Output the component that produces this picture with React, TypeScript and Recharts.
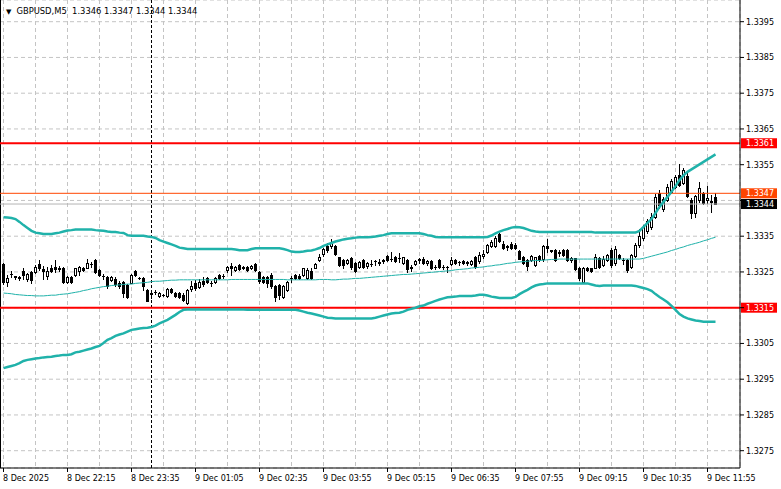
import { Bar, ComposedChart, Line, XAxis, YAxis, CartesianGrid, ReferenceLine } from "recharts";

// GBPUSD M5, 8 Dec 20:55 -> 9 Dec 12:05
const opens = [
  1.33272, 1.33222, 1.33243, 1.33238, 1.33233, 1.33253, 1.33229, 1.3325, 1.33251, 1.33272,
  1.33257, 1.33238, 1.33262, 1.33264, 1.33258, 1.33262, 1.33222, 1.33236, 1.33241, 1.33252,
  1.33262, 1.33262, 1.33273, 1.33283, 1.33255, 1.33238, 1.33235, 1.33228, 1.3323, 1.3322,
  1.33222, 1.33213, 1.3322, 1.33252, 1.33233, 1.33232, 1.332, 1.3319, 1.33193, 1.33183,
  1.33186, 1.33183, 1.33203, 1.3319, 1.33192, 1.33186, 1.33163, 1.33202, 1.3322, 1.33208,
  1.33225, 1.33232, 1.33219, 1.33222, 1.33241, 1.33238, 1.33255, 1.33266, 1.33256, 1.3327,
  1.33262, 1.33264, 1.3326, 1.33272, 1.3325, 1.33237, 1.33236, 1.33241, 1.3321, 1.33213,
  1.3318, 1.332, 1.33233, 1.33241, 1.3324, 1.33241, 1.33234, 1.33254, 1.33262, 1.33283,
  1.333, 1.33323, 1.33322, 1.33322, 1.33291, 1.33283, 1.33276, 1.3329, 1.33274, 1.33264,
  1.33283, 1.33266, 1.33272, 1.33281, 1.33276, 1.33283, 1.33294, 1.33285, 1.33291, 1.33288,
  1.33275, 1.33283, 1.33262, 1.33272, 1.33285, 1.33286, 1.33274, 1.3328, 1.33263, 1.33283,
  1.33264, 1.33264, 1.33272, 1.33283, 1.33278, 1.3328, 1.33277, 1.33272, 1.33292, 1.3328,
  1.33296, 1.33305, 1.33322, 1.33323, 1.33357, 1.33328, 1.33322, 1.33328, 1.33325, 1.33308,
  1.33291, 1.33283, 1.33283, 1.3327, 1.33294, 1.33285, 1.33322, 1.3331, 1.33311, 1.33305,
  1.33311, 1.3331, 1.33283, 1.33288, 1.3326, 1.33222, 1.33262, 1.3326, 1.33262, 1.3329,
  1.3327, 1.33283, 1.33311, 1.33275, 1.33297, 1.33284, 1.33283, 1.33263, 1.33296, 1.33325,
  1.33345, 1.33365, 1.33375, 1.33405, 1.33471, 1.33425, 1.33452, 1.33475, 1.33488, 1.3352,
  1.33498, 1.33517, 1.33452, 1.33416, 1.33451, 1.3347, 1.33452, 1.33448, 1.3346,
];

const highs = [
  1.33275, 1.33241, 1.33253, 1.3324, 1.3324, 1.3326, 1.33248, 1.33252, 1.3327, 1.33283,
  1.33268, 1.33264, 1.3327, 1.33283, 1.33266, 1.33265, 1.3324, 1.3324, 1.33262, 1.33268,
  1.33264, 1.33285, 1.33278, 1.33285, 1.33258, 1.33244, 1.3324, 1.3324, 1.33235, 1.33224,
  1.33224, 1.33215, 1.33245, 1.33256, 1.33236, 1.33235, 1.33202, 1.332, 1.332, 1.33195,
  1.33188, 1.33206, 1.33206, 1.33195, 1.33195, 1.3319, 1.33203, 1.33225, 1.33228, 1.3323,
  1.33235, 1.33236, 1.33224, 1.33236, 1.33245, 1.33243, 1.33268, 1.33275, 1.33266, 1.33272,
  1.33268, 1.33266, 1.3327, 1.33274, 1.33253, 1.3324, 1.3324, 1.33248, 1.33213, 1.33216,
  1.33213, 1.33224, 1.33238, 1.33244, 1.33243, 1.33262, 1.3326, 1.33262, 1.33274, 1.333,
  1.33316, 1.3333, 1.33341, 1.33326, 1.33293, 1.33286, 1.33286, 1.33293, 1.33278, 1.3328,
  1.33286, 1.33278, 1.33283, 1.33283, 1.33285, 1.33285, 1.33297, 1.33305, 1.33294, 1.33303,
  1.33293, 1.33286, 1.3327, 1.33284, 1.33288, 1.33292, 1.33283, 1.33283, 1.3327, 1.33286,
  1.3327, 1.33268, 1.33293, 1.33286, 1.33282, 1.33283, 1.33281, 1.33284, 1.33294, 1.33305,
  1.3331, 1.33328, 1.33338, 1.3335, 1.3336, 1.33337, 1.33324, 1.33334, 1.3333, 1.3331,
  1.33294, 1.33286, 1.33297, 1.33293, 1.33297, 1.33324, 1.33342, 1.33312, 1.33314, 1.3331,
  1.33314, 1.33314, 1.33292, 1.3329, 1.33263, 1.33265, 1.33264, 1.33262, 1.333, 1.33293,
  1.33295, 1.333, 1.33318, 1.33322, 1.333, 1.33288, 1.33285, 1.333, 1.33332, 1.3337,
  1.3338, 1.33398, 1.33415, 1.33468, 1.3348, 1.3346, 1.33495, 1.3351, 1.3352, 1.33553,
  1.3354, 1.3353, 1.33458, 1.33466, 1.33503, 1.33475, 1.3349, 1.33465, 1.3347,
];

const lows = [
  1.33215, 1.3321, 1.33235, 1.3323, 1.33228, 1.3323, 1.33226, 1.33218, 1.33248, 1.33255,
  1.3323, 1.3323, 1.3325, 1.33251, 1.33252, 1.3322, 1.33218, 1.33218, 1.33238, 1.33241,
  1.33252, 1.3326, 1.33265, 1.33248, 1.33238, 1.3323, 1.33205, 1.33225, 1.3321, 1.33205,
  1.3318, 1.33178, 1.33218, 1.3324, 1.3323, 1.33199, 1.33168, 1.33178, 1.33188, 1.3318,
  1.33183, 1.3318, 1.3319, 1.3318, 1.33178, 1.3317, 1.3316, 1.33198, 1.332, 1.33205,
  1.33212, 1.3322, 1.3321, 1.3322, 1.3323, 1.33234, 1.3325, 1.33241, 1.33252, 1.33255,
  1.33258, 1.33252, 1.33258, 1.33253, 1.3322, 1.3322, 1.33208, 1.33205, 1.3317, 1.33174,
  1.33176, 1.33198, 1.33222, 1.3323, 1.3323, 1.33238, 1.3323, 1.3323, 1.3326, 1.3328,
  1.33295, 1.33305, 1.33318, 1.33297, 1.33266, 1.3326, 1.33273, 1.33258, 1.3325, 1.33262,
  1.33262, 1.33262, 1.33266, 1.3327, 1.3327, 1.33275, 1.3328, 1.3328, 1.33278, 1.33278,
  1.33272, 1.3325, 1.33252, 1.3327, 1.33275, 1.33272, 1.3327, 1.33258, 1.33258, 1.3326,
  1.33258, 1.3325, 1.3327, 1.33272, 1.3327, 1.33272, 1.3327, 1.3327, 1.3326, 1.33276,
  1.3329, 1.33302, 1.3332, 1.3332, 1.33334, 1.33315, 1.33312, 1.33315, 1.33313, 1.33285,
  1.33272, 1.33255, 1.3328, 1.33268, 1.33282, 1.33282, 1.33305, 1.33305, 1.3328, 1.33296,
  1.33294, 1.3328, 1.33278, 1.33255, 1.33227, 1.3322, 1.33252, 1.3325, 1.3326, 1.3326,
  1.33268, 1.3328, 1.33265, 1.3327, 1.33285, 1.33272, 1.3325, 1.3326, 1.33293, 1.3332,
  1.3334, 1.3336, 1.3337, 1.334, 1.3343, 1.3342, 1.33448, 1.3347, 1.33485, 1.3349,
  1.33495, 1.3346, 1.33402, 1.33405, 1.33446, 1.33439, 1.33442, 1.33418, 1.3344,
];

const closes = [
  1.33222, 1.33234, 1.33244, 1.33236, 1.33235, 1.33241, 1.33244, 1.33227, 1.33264, 1.3326,
  1.33252, 1.33253, 1.33252, 1.33258, 1.33262, 1.33221, 1.33236, 1.33222, 1.3326, 1.33264,
  1.33255, 1.33276, 1.33272, 1.3325, 1.33241, 1.3324, 1.3321, 1.33236, 1.33216, 1.3321,
  1.33192, 1.33181, 1.33241, 1.33241, 1.33232, 1.3321, 1.3317, 1.33188, 1.33195, 1.3319,
  1.33186, 1.33203, 1.33193, 1.33183, 1.3318, 1.33172, 1.332, 1.33212, 1.33205, 1.33222,
  1.33215, 1.33223, 1.33218, 1.33234, 1.33232, 1.3324, 1.33264, 1.3326, 1.33264, 1.33259,
  1.33264, 1.33255, 1.33268, 1.33255, 1.33224, 1.33222, 1.33218, 1.3321, 1.33181, 1.33185,
  1.3321, 1.33222, 1.33234, 1.33232, 1.33232, 1.3326, 1.33256, 1.33233, 1.33272, 1.33293,
  1.33313, 1.3331, 1.33334, 1.333, 1.3327, 1.3327, 1.33283, 1.33263, 1.33253, 1.33278,
  1.33265, 1.33274, 1.33273, 1.3328, 1.33278, 1.33282, 1.33283, 1.33286, 1.3328, 1.33289,
  1.33291, 1.33258, 1.33263, 1.33282, 1.33284, 1.33275, 1.3328, 1.33261, 1.33265, 1.33264,
  1.33265, 1.33263, 1.33283, 1.33275, 1.33277, 1.33274, 1.33276, 1.33282, 1.33264, 1.33297,
  1.333, 1.33326, 1.33334, 1.33346, 1.33336, 1.33318, 1.33321, 1.33318, 1.33316, 1.33287,
  1.33276, 1.33266, 1.33294, 1.33291, 1.33285, 1.33322, 1.33318, 1.33308, 1.33283, 1.33303,
  1.33297, 1.33283, 1.3329, 1.33258, 1.33232, 1.3326, 1.33255, 1.33253, 1.33293, 1.33264,
  1.33285, 1.33298, 1.3327, 1.33313, 1.33288, 1.33283, 1.33256, 1.33297, 1.33325, 1.3335,
  1.33375, 1.33392, 1.33405, 1.3346, 1.33437, 1.33455, 1.33488, 1.33505, 1.33516, 1.33493,
  1.33535, 1.33462, 1.33414, 1.33462, 1.33485, 1.33442, 1.33458, 1.33447, 1.3344,
];

// Bollinger bands (20)
const upperBand = [
  1.33403, 1.33402, 1.33401, 1.33398, 1.3339, 1.33381, 1.33373, 1.33365, 1.3336, 1.33358,
  1.33356, 1.33356, 1.33356, 1.33358, 1.3336, 1.33363, 1.33366, 1.33367, 1.33369, 1.33369,
  1.33369, 1.33369, 1.33369, 1.33367, 1.33366, 1.33365, 1.33363, 1.33362, 1.33362, 1.3336,
  1.33359, 1.33353, 1.33351, 1.33351, 1.33351, 1.33351, 1.33349, 1.33348, 1.33345, 1.33339,
  1.33335, 1.33331, 1.33327, 1.33323, 1.33318, 1.33316, 1.33314, 1.33314, 1.33314, 1.33314,
  1.33314, 1.33314, 1.33314, 1.33314, 1.33314, 1.33314, 1.33314, 1.33314, 1.33313, 1.33311,
  1.33311, 1.33311, 1.33314, 1.33316, 1.33316, 1.33316, 1.33316, 1.33316, 1.33316, 1.33316,
  1.33314, 1.33311, 1.33307, 1.33306, 1.33306, 1.33307, 1.33309, 1.3331, 1.33313, 1.33317,
  1.33323, 1.33327, 1.33331, 1.33335, 1.33338, 1.33341, 1.33343, 1.33344, 1.33346, 1.33347,
  1.33347, 1.33347, 1.33348, 1.33349, 1.33351, 1.33353, 1.33356, 1.33358, 1.33358, 1.33358,
  1.33358, 1.33358, 1.33358, 1.33358, 1.33358, 1.33356, 1.33353, 1.33351, 1.33348, 1.33347,
  1.33347, 1.33347, 1.33347, 1.33347, 1.33347, 1.33347, 1.33347, 1.33347, 1.33347, 1.33347,
  1.33347, 1.33348, 1.33352, 1.33358, 1.33363, 1.33367, 1.3337, 1.33374, 1.33376, 1.33375,
  1.33373, 1.33369, 1.33365, 1.33363, 1.33362, 1.33362, 1.33362, 1.33362, 1.33362, 1.33362,
  1.33362, 1.33362, 1.33362, 1.33362, 1.33362, 1.33362, 1.33362, 1.33362, 1.3336, 1.3336,
  1.3336, 1.3336, 1.3336, 1.3336, 1.3336, 1.3336, 1.3336, 1.3336, 1.3336, 1.33365,
  1.33376, 1.33387, 1.33398, 1.33415, 1.33432, 1.33446, 1.3346, 1.33474, 1.3349, 1.33507,
  1.3352, 1.3353, 1.33537, 1.33544, 1.33551, 1.33558, 1.33565, 1.33572, 1.33579,
];

const middleBand = [
  1.33191, 1.3319, 1.33189, 1.33187, 1.33186, 1.33185, 1.33184, 1.33184, 1.33183, 1.33183,
  1.33183, 1.33184, 1.33185, 1.33185, 1.33187, 1.33188, 1.33189, 1.33191, 1.33193, 1.33195,
  1.33198, 1.332, 1.33203, 1.33205, 1.33207, 1.33209, 1.3321, 1.33212, 1.33213, 1.33214,
  1.33215, 1.33216, 1.33216, 1.33218, 1.33219, 1.3322, 1.33221, 1.33223, 1.33224, 1.33224,
  1.33225, 1.33226, 1.33227, 1.33227, 1.33228, 1.33228, 1.33228, 1.33228, 1.33228, 1.33228,
  1.33228, 1.33228, 1.33228, 1.33228, 1.33228, 1.33228, 1.33228, 1.33229, 1.33229, 1.33229,
  1.33229, 1.33229, 1.33229, 1.33229, 1.33229, 1.33229, 1.33229, 1.33229, 1.33229, 1.33229,
  1.33229, 1.33228, 1.33228, 1.33228, 1.33228, 1.33228, 1.33228, 1.33228, 1.33228, 1.33229,
  1.33229, 1.33229, 1.33228, 1.33228, 1.33229, 1.3323, 1.3323, 1.33231, 1.33232, 1.33232,
  1.33233, 1.33234, 1.33235, 1.33236, 1.33237, 1.33238, 1.33239, 1.3324, 1.33241, 1.33242,
  1.33243, 1.33243, 1.33244, 1.33245, 1.33246, 1.33247, 1.33248, 1.33249, 1.3325, 1.33251,
  1.33252, 1.33253, 1.33254, 1.33256, 1.33257, 1.33258, 1.33259, 1.33261, 1.33262, 1.33263,
  1.33264, 1.33266, 1.33267, 1.33269, 1.3327, 1.33272, 1.33274, 1.33275, 1.33277, 1.33278,
  1.33279, 1.3328, 1.33281, 1.33282, 1.33282, 1.33283, 1.33284, 1.33285, 1.33285, 1.33286,
  1.33286, 1.33286, 1.33286, 1.33286, 1.33286, 1.33286, 1.33286, 1.33286, 1.33286, 1.33286,
  1.33286, 1.33286, 1.33286, 1.33286, 1.33286, 1.33286, 1.33286, 1.33286, 1.33286, 1.33286,
  1.33288, 1.33291, 1.33294, 1.33297, 1.333, 1.33303, 1.33306, 1.3331, 1.33313, 1.33317,
  1.3332, 1.33324, 1.33327, 1.3333, 1.33333, 1.33337, 1.3334, 1.33344, 1.33347,
];

const lowerBand = [
  1.32981, 1.32984, 1.32987, 1.3299, 1.32995, 1.33001, 1.33004, 1.33006, 1.33008, 1.33009,
  1.33011, 1.33012, 1.33013, 1.33015, 1.33016, 1.33018, 1.33018, 1.3302, 1.33025, 1.33027,
  1.3303, 1.33033, 1.33036, 1.3304, 1.33043, 1.33051, 1.3306, 1.33065, 1.33071, 1.33075,
  1.33078, 1.33083, 1.33088, 1.3309, 1.33092, 1.33093, 1.33094, 1.33096, 1.331, 1.33106,
  1.33111, 1.33116, 1.33123, 1.3313, 1.33138, 1.33144, 1.33145, 1.33145, 1.33145, 1.33145,
  1.33145, 1.33145, 1.33145, 1.33145, 1.33145, 1.33145, 1.33145, 1.33145, 1.33145, 1.33145,
  1.33145, 1.33144, 1.33144, 1.33144, 1.33144, 1.33144, 1.33144, 1.33144, 1.33144, 1.33144,
  1.33144, 1.33144, 1.33144, 1.33144, 1.33142, 1.33139, 1.33136, 1.33134, 1.33131, 1.33128,
  1.33125, 1.33122, 1.33121, 1.3312, 1.3312, 1.3312, 1.3312, 1.3312, 1.3312, 1.3312,
  1.3312, 1.3312, 1.3312, 1.33122, 1.33125, 1.33128, 1.33131, 1.33134, 1.33135, 1.33136,
  1.33139, 1.33144, 1.33147, 1.3315, 1.33154, 1.33156, 1.33161, 1.33165, 1.33169, 1.33173,
  1.33176, 1.33179, 1.3318, 1.33181, 1.33183, 1.33183, 1.33183, 1.33183, 1.33184, 1.33186,
  1.33186, 1.33184, 1.33181, 1.33179, 1.33177, 1.33177, 1.33177, 1.33177, 1.3318, 1.33188,
  1.33194, 1.332, 1.33207, 1.33212, 1.33215, 1.33216, 1.33218, 1.33218, 1.33218, 1.33218,
  1.33218, 1.33218, 1.33218, 1.33218, 1.33218, 1.33218, 1.33218, 1.33215, 1.33212, 1.33211,
  1.33212, 1.33212, 1.33212, 1.33212, 1.33212, 1.33212, 1.33212, 1.33212, 1.33211, 1.33208,
  1.33205, 1.33202, 1.33197, 1.33188, 1.3318, 1.33173, 1.33165, 1.33155, 1.33144, 1.33132,
  1.33125, 1.3312, 1.33117, 1.33114, 1.33113, 1.33111, 1.33111, 1.33111, 1.33111,
];

const priceTicks = [1.3275, 1.3285, 1.3295, 1.3305, 1.3315, 1.3325, 1.3335, 1.3345, 1.3355, 1.3365, 1.3375, 1.3385, 1.3395];
const timeLabels = [
  "8 Dec 2025", "8 Dec 22:15", "8 Dec 23:35", "9 Dec 01:05", "9 Dec 02:35", "9 Dec 03:55",
  "9 Dec 05:15", "9 Dec 06:35", "9 Dec 07:55", "9 Dec 09:15", "9 Dec 10:35", "9 Dec 11:55",
];
const gridTicks = [0, 8, 16, 24, 32, 40, 48, 56, 64, 72, 80, 88, 96, 104, 112, 120, 128, 136, 144, 152, 160, 168, 176];
const daySeparator = 37; // 9 Dec 00:00
const levels = [1.3361, 1.3315];
const askPrice = 1.3347;
const bidPrice = 1.3344;
const tagPrices = [...levels, askPrice, bidPrice];

const FONT = '"DejaVu Sans", Verdana, sans-serif';
const TEAL = "#20b2aa";

const data = opens.map((o, i) => ({
  i,
  o,
  h: highs[i],
  l: lows[i],
  c: closes[i],
  up: upperBand[i],
  mid: middleBand[i],
  lo: lowerBand[i],
}));

const Candle = (props: any) => {
  const { x, y, width, height, payload } = props;
  if (!payload || x == null) return null;
  const { o, h, l, c } = payload;
  const top = Math.min(y, y + height);
  const span = Math.abs(height);
  const py = (p: number) => Math.round(h === l ? top : top + ((h - p) / (h - l)) * span);
  const cx = Math.round(x + width / 2 - 0.5) + 0.5;
  const yo = py(o);
  const yc = py(c);
  const bodyTop = Math.min(yo, yc);
  const bodyH = Math.abs(yc - yo);
  return (
    <g>
      <line x1={cx} x2={cx} y1={py(h)} y2={py(l) + 1} stroke="#000" strokeWidth={1} />
      {bodyH < 1 ? (
        <line x1={cx - 1.5} x2={cx + 1.5} y1={bodyTop + 0.5} y2={bodyTop + 0.5} stroke="#000" />
      ) : c >= o ? (
        <rect x={cx - 1} y={bodyTop + 0.5} width={2} height={bodyH} fill="#fff" stroke="#000" strokeWidth={1} />
      ) : (
        <rect x={cx - 1.5} y={bodyTop} width={3} height={bodyH + 1} fill="#000" />
      )}
    </g>
  );
};

const TimeTick = (props: any) => {
  const { x, y, payload } = props;
  const v = payload.value;
  if (v % 16 !== 0) return <g />;
  const label = timeLabels[v / 16];
  return (
    <g>
      <line x1={x} x2={x} y1={y} y2={y + 4} stroke="#000" />
      <text x={x - 0.5} y={y + 13} fontSize={8} fontFamily={FONT} fill="#000">
        {label}
      </text>
    </g>
  );
};

// price labels under a price tag are hidden, as in the terminal
const PriceTick = (props: any) => {
  const { x, y, payload } = props;
  const v = payload.value;
  if (tagPrices.some((t) => Math.abs(t - v) < 0.00035)) return <g />;
  return (
    <text x={x} y={y + 3} fontSize={8} fontFamily={FONT} fill="#000">
      {v.toFixed(4)}
    </text>
  );
};

const PriceTag = (props: any) => {
  const { viewBox, value, bg } = props;
  if (!viewBox) return null;
  const x = viewBox.x + viewBox.width + 1;
  const y = viewBox.y;
  return (
    <g>
      <rect x={x} y={y - 5} width={36} height={10} fill={bg} />
      <text x={x + 5} y={y + 3} fontSize={8} fontFamily={FONT} fill="#fff">
        {value.toFixed(4)}
      </text>
    </g>
  );
};

export default function App() {
  const last = data[data.length - 1];
  const title = `GBPUSD,M5  ${last.o.toFixed(4)} ${last.h.toFixed(4)} ${last.l.toFixed(4)} ${last.c.toFixed(4)}`;
  return (
    <div style={{ position: "absolute", left: 0, top: 0, width: 781, height: 489, background: "#fff" }}>
      <ComposedChart width={781} height={489} data={data} margin={{ top: 0, right: 0, bottom: 0, left: 0 }}>
        <CartesianGrid stroke="#c4c4c4" strokeDasharray="4 3" />
        <XAxis
          type="number"
          dataKey="i"
          domain={[-0.875, 184.125]}
          allowDataOverflow
          ticks={gridTicks}
          interval={0}
          height={21}
          tickSize={0}
          tickMargin={0}
          tickLine={false}
          axisLine={{ stroke: "#000" }}
          tick={<TimeTick />}
        />
        <YAxis
          orientation="right"
          type="number"
          domain={[1.327016, 1.340107]}
          allowDataOverflow
          ticks={priceTicks}
          interval={0}
          width={41}
          tickSize={4}
          tickMargin={2}
          axisLine={{ stroke: "#000" }}
          tickLine={{ stroke: "#000" }}
          tick={<PriceTick />}
        />
        <ReferenceLine x={-0.875} stroke="#000" strokeWidth={2} />
        <ReferenceLine x={daySeparator} stroke="#000" strokeDasharray="3 2" />
        <ReferenceLine y={bidPrice} stroke="#b4b4b4" label={<PriceTag value={bidPrice} bg="#000" />} />
        <ReferenceLine y={askPrice} stroke="#ff4500" label={<PriceTag value={askPrice} bg="#ff4500" />} />
        {levels.map((lv) => (
          <ReferenceLine key={lv} y={lv} stroke="#ff0000" strokeWidth={2} label={<PriceTag value={lv} bg="#ff0000" />} />
        ))}
        <Bar
          dataKey={(d: any) => [d.l, d.h]}
          barSize={3}
          shape={(p: any) => <Candle {...p} />}
          isAnimationActive={false}
        />
        <Line dataKey="mid" stroke={TEAL} strokeWidth={1} dot={false} activeDot={false} isAnimationActive={false} />
        <Line dataKey="up" stroke={TEAL} strokeWidth={2.5} dot={false} activeDot={false} isAnimationActive={false} />
        <Line dataKey="lo" stroke={TEAL} strokeWidth={2.5} dot={false} activeDot={false} isAnimationActive={false} />
      </ComposedChart>
      <div
        style={{
          position: "absolute",
          left: 6,
          top: 6,
          fontFamily: FONT,
          fontSize: 8.4,
          lineHeight: "10px",
          color: "#000",
          whiteSpace: "pre",
        }}
      >
        <span style={{ fontSize: 7, marginRight: 5 }}>▼</span>
        {title}
      </div>
    </div>
  );
}
